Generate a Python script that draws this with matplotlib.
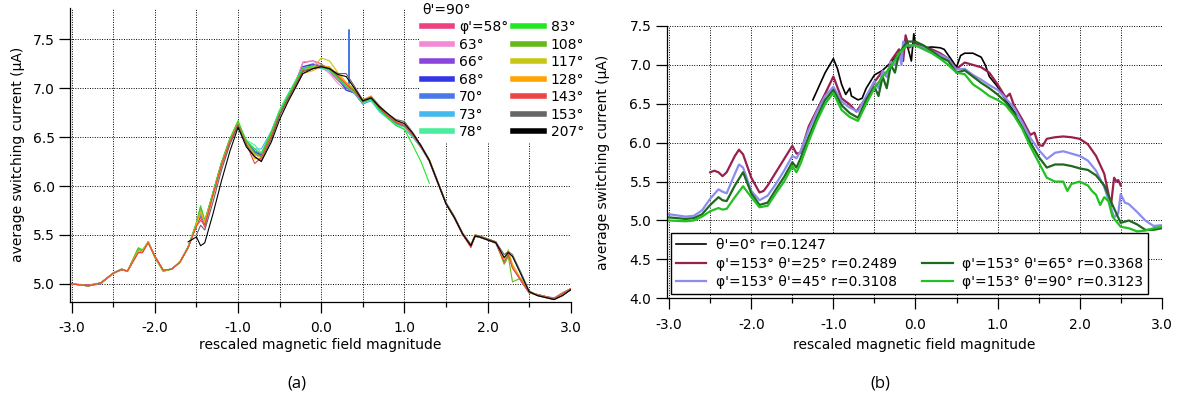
import matplotlib.pyplot as plt
import matplotlib.ticker as mticker
from matplotlib.lines import Line2D
import numpy as np

plt.rcParams['axes.unicode_minus'] = False
plt.rcParams['font.family'] = 'DejaVu Sans'

nan = np.nan

# ---- panel (a): theta'=90, different phi' ----
x_a = [-3.0, -2.8, -2.65, -2.5, -2.4, -2.33, -2.2, -2.15,
       -2.08, -2.0, -1.9, -1.8, -1.7, -1.6, -1.5, -1.45,
       -1.4, -1.3, -1.2, -1.1, -1.0, -0.95, -0.9, -0.8,
       -0.72, -0.6, -0.5, -0.4, -0.3, -0.22, -0.1, 0.0,
       0.1, 0.2, 0.3, 0.4, 0.5, 0.6, 0.7, 0.8,
       0.9, 1.0, 1.1, 1.2, 1.3, 1.4, 1.5, 1.6,
       1.7, 1.8, 1.85, 1.9, 2.0, 2.1, 2.2, 2.25,
       2.3, 2.4, 2.5, 2.6, 2.7, 2.8, 2.9, 3.0]

i_58 = [5.00, 4.99, 5.01, 5.11, 5.14, 5.13, 5.32, 5.32,
        5.42, 5.29, 5.14, 5.15, 5.22, 5.38, 5.60, 5.68,
        5.58, 5.91, 6.21, 6.45, 6.63, 6.52, 6.43, 6.32,
        6.30, 6.53, 6.75, 6.91, 7.08, 7.26, 7.28, 7.25,
        7.17, 7.08, 7.00, 6.95, 6.85, 6.89, 6.79, 6.71,
        6.64, 6.61, 6.51, 6.40, 6.25, 6.03, 5.82, 5.67,
        5.50, 5.38, 5.48, 5.48, 5.45, 5.42, 5.23, 5.30,
        5.17, 5.03, 4.91, 4.89, 4.87, 4.85, 4.91, 4.95]
i_63 = [5.00, 4.98, 5.01, 5.10, 5.15, 5.13, 5.33, 5.34,
        5.43, 5.28, 5.14, 5.15, 5.23, 5.38, 5.61, 5.72,
        5.60, 5.92, 6.22, 6.47, 6.64, 6.54, 6.44, 6.34,
        6.31, 6.53, 6.75, 6.91, 7.07, 7.27, 7.28, 7.22,
        7.15, 7.05, 6.98, 6.96, 6.86, 6.90, 6.80, 6.72,
        6.66, 6.62, 6.53, 6.41, 6.26, 6.05, 5.83, 5.68,
        5.51, 5.40, 5.49, 5.48, 5.45, 5.41, 5.24, 5.31,
        5.18, 5.04, 4.92, 4.89, 4.87, 4.86, 4.91, 4.95]
i_66 = [5.00, 4.98, 5.00, 5.11, 5.15, 5.13, 5.33, 5.33,
        5.43, 5.28, 5.14, 5.15, 5.22, 5.37, 5.61, 5.71,
        5.62, 5.93, 6.23, 6.47, 6.65, 6.54, 6.45, 6.34,
        6.31, 6.54, 6.76, 6.92, 7.08, 7.22, 7.25, 7.22,
        7.18, 7.10, 7.02, 6.96, 6.85, 6.89, 6.80, 6.72,
        6.65, 6.62, 6.52, 6.40, 6.26, 6.04, 5.82, 5.68,
        5.51, 5.39, 5.49, 5.48, 5.45, 5.42, 5.24, 5.31,
        5.18, 5.04, 4.91, 4.89, 4.87, 4.85, 4.90, 4.94]
i_68 = [5.00, 4.98, 5.01, 5.11, 5.15, 5.13, 5.34, 5.33,
        5.43, 5.28, 5.14, 5.15, 5.22, 5.37, 5.60, 5.71,
        5.62, 5.93, 6.23, 6.47, 6.65, 6.54, 6.45, 6.35,
        6.32, 6.55, 6.77, 6.93, 7.08, 7.22, 7.24, 7.23,
        7.19, 7.11, 6.98, 6.95, 6.84, 6.88, 6.79, 6.71,
        6.64, 6.61, 6.51, 6.40, 6.26, 6.04, 5.82, 5.68,
        5.51, 5.39, 5.49, 5.48, 5.45, 5.42, 5.24, 5.31,
        5.18, 5.04, 4.91, 4.89, 4.87, 4.85, 4.90, 4.95]
# 70 deg has a narrow spike near 0.33
x_70 = x_a[:35] + [0.33, 0.335, 0.34] + x_a[35:]
i_70 = [5.00, 4.98, 5.01, 5.11, 5.15, 5.13, 5.33, 5.33,
        5.43, 5.28, 5.14, 5.15, 5.22, 5.37, 5.61, 5.71,
        5.62, 5.93, 6.23, 6.47, 6.65, 6.55, 6.46, 6.36,
        6.33, 6.55, 6.77, 6.93, 7.09, 7.21, 7.23, 7.22,
        7.18, 7.10, 7.00, 7.02, 7.60, 6.98, 6.95, 6.84, 6.88, 6.78, 6.71,
        6.64, 6.61, 6.51, 6.40, 6.26, 6.04, 5.82, 5.68,
        5.51, 5.39, 5.49, 5.48, 5.45, 5.42, 5.24, 5.31,
        5.18, 5.04, 4.91, 4.89, 4.87, 4.85, 4.90, 4.95]
i_73 = [5.00, 4.98, 5.01, 5.11, 5.15, 5.13, 5.33, 5.33,
        5.43, 5.28, 5.14, 5.15, 5.22, 5.37, 5.61, 5.72,
        5.62, 5.93, 6.23, 6.47, 6.65, 6.55, 6.46, 6.38,
        6.38, 6.56, 6.77, 6.93, 7.08, 7.20, 7.22, 7.20,
        7.18, 7.11, 7.02, 6.95, 6.84, 6.87, 6.76, 6.69,
        6.62, 6.58, 6.50, 6.39, 6.26, 6.04, 5.82, 5.68,
        5.51, 5.39, 5.49, 5.48, 5.45, 5.42, 5.24, 5.31,
        5.18, 5.04, 4.91, 4.89, 4.87, 4.85, 4.90, 4.95]
i_78 = [5.00, 4.98, 5.01, 5.11, 5.15, 5.13, 5.35, 5.34,
        5.43, 5.28, 5.13, 5.15, 5.22, 5.37, 5.62, 5.75,
        5.64, 5.94, 6.24, 6.48, 6.66, 6.56, 6.47, 6.42,
        6.34, 6.56, 6.78, 6.94, 7.09, 7.21, 7.22, 7.21,
        7.18, 7.10, 7.02, 6.96, 6.85, 6.88, 6.77, 6.70,
        6.63, 6.60, 6.51, 6.40, 6.26, 6.04, 5.82, 5.68,
        5.51, 5.39, 5.49, 5.48, 5.45, 5.42, 5.24, 5.31,
        5.18, 5.04, 4.91, 4.89, 4.87, 4.85, 4.90, 4.95]
i_83 = [5.00, 4.98, 5.01, 5.11, 5.15, 5.13, 5.37, 5.35,
        5.42, 5.27, 5.13, 5.15, 5.22, 5.38, 5.63, 5.80,
        5.65, 5.94, 6.24, 6.48, 6.67, 6.56, 6.46, 6.38,
        6.33, 6.55, 6.76, 6.92, 7.08, 7.21, 7.22, 7.22,
        7.19, 7.11, 7.02, 6.96, 6.86, 6.89, 6.78, 6.70,
        6.62, 6.58, 6.42, 6.25, 6.03]
i_108 = [5.00, 4.98, 5.01, 5.11, 5.15, 5.13, 5.36, 5.34,
         5.43, 5.27, 5.13, 5.15, 5.22, 5.38, 5.62, 5.78,
         5.64, 5.93, 6.23, 6.47, 6.65, 6.54, 6.45, 6.34,
         6.30, 6.53, 6.74, 6.90, 7.06, 7.19, 7.21, 7.24,
         7.21, 7.13, 7.05, 6.98, 6.87, 6.91, 6.81, 6.73,
         6.66, 6.63, 6.53, 6.41, 6.27, 6.05, 5.83, 5.69,
         5.52, 5.40, 5.50, 5.49, 5.46, 5.43, 5.20, 5.28,
         5.02, 5.06, 4.92, 4.89, 4.87, 4.85, 4.90, 4.95]
i_117 = [5.00, 4.98, 5.01, 5.11, 5.15, 5.13, 5.34, 5.33,
         5.43, 5.28, 5.14, 5.15, 5.22, 5.37, 5.61, 5.74,
         5.63, 5.92, 6.22, 6.46, 6.64, 6.53, 6.44, 6.32,
         6.29, 6.51, 6.73, 6.89, 7.05, 7.18, 7.21, 7.31,
         7.28, 7.16, 7.06, 6.99, 6.88, 6.92, 6.82, 6.74,
         6.66, 6.63, 6.53, 6.41, 6.27, 6.05, 5.83, 5.69,
         5.52, 5.40, 5.50, 5.49, 5.46, 5.43, 5.25, 5.35,
         5.17, 5.05, 4.91, 4.88, 4.86, 4.84, 4.88, 4.94]
i_128 = [5.00, 4.98, 5.01, 5.11, 5.15, 5.13, 5.33, 5.33,
         5.43, 5.28, 5.14, 5.15, 5.22, 5.37, 5.60, 5.74,
         5.63, 5.91, 6.21, 6.45, 6.62, 6.52, 6.43, 6.28,
         6.28, 6.50, 6.72, 6.88, 7.03, 7.15, 7.18, 7.22,
         7.22, 7.14, 7.06, 6.99, 6.88, 6.92, 6.82, 6.73,
         6.66, 6.63, 6.53, 6.41, 6.27, 6.05, 5.83, 5.69,
         5.52, 5.38, 5.50, 5.49, 5.46, 5.43, 5.26, 5.33,
         5.20, 5.05, 4.92, 4.89, 4.86, 4.84, 4.89, 4.95]
i_143 = [5.00, 4.98, 5.01, 5.11, 5.15, 5.13, 5.32, 5.32,
         5.42, 5.28, 5.14, 5.15, 5.22, 5.37, 5.59, 5.65,
         5.60, 5.91, 6.21, 6.45, 6.63, 6.52, 6.43, 6.23,
         6.29, 6.51, 6.73, 6.89, 7.05, 7.18, 7.20, 7.23,
         7.20, 7.12, 7.04, 6.97, 6.86, 6.91, 6.80, 6.72,
         6.65, 6.62, 6.52, 6.40, 6.26, 6.04, 5.82, 5.68,
         5.51, 5.37, 5.49, 5.48, 5.45, 5.42, 5.22, 5.30,
         5.16, 5.04, 4.91, 4.89, 4.87, 4.85, 4.90, 4.95]
# 153 starts at -1.5, 207 starts at -1.6
i_153 = [5.50, 5.60,
         5.55, 5.84, 6.16, 6.42, 6.62, 6.52, 6.42, 6.30,
         6.26, 6.48, 6.72, 6.89, 7.04, 7.17, 7.20, 7.22,
         7.20, 7.15, 7.15, 7.02, 6.88, 6.91, 6.82, 6.74,
         6.68, 6.66, 6.55, 6.42, 6.27, 6.05, 5.83, 5.69,
         5.52, 5.40, 5.50, 5.49, 5.46, 5.43, 5.30, 5.33,
         5.30, 5.12, 4.93, 4.88, 4.86, 4.84, 4.88, 4.94]
i_207 = [5.43, 5.48, 5.39,
         5.42, 5.72, 6.05, 6.35, 6.60, 6.50, 6.40, 6.30,
         6.25, 6.45, 6.68, 6.86, 7.02, 7.15, 7.20, 7.22,
         7.20, 7.14, 7.12, 7.00, 6.87, 6.90, 6.81, 6.74,
         6.67, 6.64, 6.54, 6.41, 6.26, 6.04, 5.82, 5.68,
         5.51, 5.39, 5.49, 5.48, 5.45, 5.42, 5.27, 5.32,
         5.28, 5.10, 4.92, 4.88, 4.86, 4.84, 4.88, 4.94]

labels_a = ["φ'=58°", "63°", "66°", "68°", "70°", "73°", "78°",
            "83°", "108°", "117°", "128°", "143°", "153°", "207°"]
colors_a = ['#ee3f80', '#f38ad8', '#8a45dd', '#3535e8', '#4a78e8', '#45b8ee', '#48ee9c',
            '#22e622', '#66b81a', '#c8c418', '#ffa500', '#ee4444', '#666666', '#000000']

# ---- panel (b) ----
x_r0 = [-1.25, -1.1, -1.0, -0.95, -0.9, -0.85, -0.8, -0.78, -0.7, -0.65,
        -0.6, -0.5, -0.4, -0.3, -0.2, -0.1, -0.05, -0.02, 0.0, 0.1,
        0.2, 0.3, 0.35, 0.45, 0.5, 0.55, 0.6, 0.7, 0.8, 0.85,
        0.9, 1.0, 1.1, 1.2, 1.25]
i_r0 = [6.55, 6.90, 7.08, 6.95, 6.75, 6.62, 6.70, 6.60, 6.55, 6.57,
        6.70, 6.87, 6.93, 7.03, 7.15, 7.25, 7.05, 7.40, 7.25, 7.22,
        7.23, 7.22, 7.20, 7.05, 6.97, 7.12, 7.15, 7.15, 7.10, 7.00,
        6.85, 6.72, 6.55, 6.40, 6.35]

x_r25 = [-2.5, -2.45, -2.4, -2.35, -2.3, -2.2, -2.15, -2.1, -2.0, -1.9,
         -1.85, -1.8, -1.7, -1.6, -1.5, -1.45, -1.4, -1.3, -1.2, -1.1,
         -1.0, -0.9, -0.85, -0.8, -0.72, -0.6, -0.5, -0.4, -0.35, -0.3,
         -0.2, -0.15, -0.12, -0.08, 0.0, 0.1, 0.2, 0.3, 0.4, 0.5,
         0.6, 0.7, 0.8, 0.9, 1.0, 1.1, 1.15, 1.2, 1.3, 1.4,
         1.45, 1.5, 1.55, 1.6, 1.7, 1.8, 1.9, 2.0, 2.1, 2.2,
         2.3, 2.35, 2.38, 2.42, 2.45, 2.47, 2.5]
i_r25 = [5.62, 5.64, 5.62, 5.57, 5.62, 5.83, 5.91, 5.85, 5.55, 5.36,
         5.38, 5.45, 5.62, 5.79, 5.96, 5.86, 5.87, 6.21, 6.42, 6.63,
         6.85, 6.57, 6.53, 6.49, 6.40, 6.58, 6.78, 6.92, 6.85, 7.05,
         7.20, 7.05, 7.38, 7.22, 7.28, 7.22, 7.20, 7.15, 7.08, 6.95,
         7.03, 7.00, 6.97, 6.90, 6.75, 6.58, 6.63, 6.48, 6.30, 6.10,
         6.13, 5.97, 5.96, 6.05, 6.07, 6.08, 6.07, 6.05, 5.98, 5.83,
         5.60, 5.35, 5.18, 5.55, 5.50, 5.52, 5.45]

x_r45 = [-3.0, -2.8, -2.7, -2.6, -2.5, -2.4, -2.35, -2.3, -2.2, -2.15,
         -2.1, -2.0, -1.9, -1.8, -1.7, -1.6, -1.5, -1.45, -1.4, -1.3,
         -1.2, -1.1, -1.0, -0.9, -0.8, -0.7, -0.6, -0.5, -0.45, -0.4,
         -0.35, -0.3, -0.25, -0.2, -0.17, -0.15, -0.1, 0.0, 0.1, 0.2,
         0.3, 0.4, 0.45, 0.5, 0.6, 0.7, 0.8, 0.9, 1.0, 1.1,
         1.2, 1.3, 1.4, 1.5, 1.6, 1.7, 1.8, 1.9, 2.0, 2.1,
         2.2, 2.3, 2.38, 2.42, 2.47, 2.5, 2.55, 2.6, 2.7, 2.8,
         2.9, 3.0]
i_r45 = [5.08, 5.05, 5.06, 5.13, 5.28, 5.40, 5.37, 5.35, 5.60, 5.72,
         5.68, 5.38, 5.26, 5.32, 5.47, 5.64, 5.83, 5.80, 5.89, 6.17,
         6.40, 6.60, 6.72, 6.53, 6.45, 6.40, 6.60, 6.79, 6.70, 6.92,
         6.85, 7.04, 7.00, 7.15, 7.00, 7.30, 7.25, 7.25, 7.22, 7.18,
         7.13, 7.08, 7.00, 6.94, 6.95, 6.87, 6.81, 6.74, 6.68, 6.57,
         6.45, 6.26, 6.06, 5.91, 5.79, 5.87, 5.89, 5.86, 5.83, 5.77,
         5.64, 5.43, 5.17, 5.04, 5.09, 5.34, 5.23, 5.21, 5.11, 5.00,
         4.93, 4.94]

x_r65 = [-3.0, -2.8, -2.7, -2.6, -2.5, -2.4, -2.35, -2.3, -2.2, -2.1,
         -2.0, -1.9, -1.8, -1.7, -1.6, -1.5, -1.45, -1.4, -1.3, -1.2,
         -1.1, -1.0, -0.9, -0.8, -0.7, -0.6, -0.5, -0.45, -0.4, -0.35,
         -0.3, -0.25, -0.2, -0.1, 0.0, 0.1, 0.2, 0.3, 0.4, 0.5,
         0.6, 0.7, 0.8, 0.9, 1.0, 1.1, 1.2, 1.3, 1.4, 1.5,
         1.6, 1.7, 1.8, 1.9, 2.0, 2.1, 2.2, 2.3, 2.4, 2.5,
         2.6, 2.7, 2.8, 2.9, 3.0]
i_r65 = [5.04, 5.02, 5.03, 5.08, 5.20, 5.30, 5.26, 5.25, 5.45, 5.62,
         5.35, 5.20, 5.23, 5.40, 5.56, 5.75, 5.68, 5.80, 6.08, 6.33,
         6.55, 6.68, 6.48, 6.38, 6.32, 6.55, 6.72, 6.60, 6.85, 6.70,
         7.00, 6.90, 7.15, 7.30, 7.30, 7.25, 7.18, 7.10, 7.05, 6.90,
         6.93, 6.85, 6.77, 6.70, 6.62, 6.52, 6.38, 6.20, 6.00, 5.82,
         5.68, 5.72, 5.72, 5.70, 5.67, 5.65, 5.58, 5.45, 5.20, 4.97,
         5.00, 4.95, 4.88, 4.88, 4.90]

x_r90 = [-3.0, -2.8, -2.7, -2.6, -2.5, -2.4, -2.35, -2.3, -2.2, -2.1,
         -2.0, -1.9, -1.8, -1.7, -1.6, -1.5, -1.45, -1.4, -1.3, -1.2,
         -1.1, -1.0, -0.9, -0.8, -0.7, -0.6, -0.5, -0.4, -0.3, -0.2,
         -0.1, 0.0, 0.1, 0.2, 0.3, 0.4, 0.5, 0.6, 0.7, 0.8,
         0.9, 1.0, 1.1, 1.2, 1.3, 1.4, 1.5, 1.6, 1.7, 1.8,
         1.85, 1.9, 2.0, 2.1, 2.15, 2.2, 2.25, 2.3, 2.35, 2.4,
         2.5, 2.6, 2.7, 2.8, 2.9, 3.0]
i_r90 = [5.00, 4.99, 5.00, 5.05, 5.12, 5.16, 5.14, 5.15, 5.30, 5.44,
         5.30, 5.17, 5.19, 5.35, 5.50, 5.70, 5.62, 5.73, 6.02, 6.28,
         6.50, 6.64, 6.42, 6.33, 6.28, 6.50, 6.70, 6.85, 6.98, 7.15,
         7.25, 7.25, 7.20, 7.15, 7.08, 7.00, 6.90, 6.88, 6.75, 6.68,
         6.60, 6.55, 6.48, 6.35, 6.18, 5.95, 5.75, 5.55, 5.50, 5.50,
         5.38, 5.47, 5.50, 5.45, 5.38, 5.33, 5.20, 5.30, 5.25, 5.05,
         4.92, 4.90, 4.86, 4.87, 4.90, 4.92]

labels_b = ["θ'=0° r=0.1247", "φ'=153° θ'=25° r=0.2489", "φ'=153° θ'=45° r=0.3108",
            "φ'=153° θ'=65° r=0.3368", "φ'=153° θ'=90° r=0.3123"]
colors_b = ['#000000', '#991f4c', '#8c8cf0', '#1d6a1d', '#22c022']


def style(ax):
    for s in ['top', 'right']:
        ax.spines[s].set_visible(False)
    for s in ['left', 'bottom']:
        ax.spines[s].set_linewidth(0.9)
    ax.xaxis.set_major_locator(mticker.MultipleLocator(1.0))
    ax.xaxis.set_minor_locator(mticker.MultipleLocator(0.5))
    ax.yaxis.set_major_locator(mticker.MultipleLocator(0.5))
    ax.xaxis.set_major_formatter(mticker.FormatStrFormatter('%.1f'))
    ax.yaxis.set_major_formatter(mticker.FormatStrFormatter('%.1f'))
    ax.tick_params(which='major', direction='out', length=8, width=0.9, labelsize=10)
    ax.tick_params(axis='x', which='major', pad=6)
    ax.tick_params(axis='y', which='major', pad=3)
    ax.tick_params(which='minor', direction='out', length=3.5, width=0.9)
    ax.grid(which='both', color='black', linestyle=(0, (1, 1.5)), linewidth=0.7)
    ax.set_axisbelow(True)
    ax.set_xlabel('rescaled magnetic field magnitude', fontsize=10)
    ax.set_ylabel('average switching current (µA)', fontsize=10)


fig = plt.figure(figsize=(11.87, 4.01), dpi=100)
ax1 = fig.add_axes([0.0590, 0.2481, 0.4218, 0.7319])
ax2 = fig.add_axes([0.5617, 0.2561, 0.4170, 0.6791])

# panel (a)
series_a = [(x_a, i_58), (x_a, i_63), (x_a, i_66), (x_a, i_68), (x_70, i_70),
            (x_a, i_73), (x_a, i_78), (x_a[:45], i_83), (x_a, i_108), (x_a, i_117),
            (x_a, i_128), (x_a, i_143), (x_a[14:], i_153), (x_a[13:], i_207)]
handles_a = []
for (xs, ys), lab, col in zip(series_a, labels_a, colors_a):
    ln, = ax1.plot(xs, ys, color=col, lw=0.8, label=lab)
    handles_a.append(ln)

style(ax1)
ax1.set_xlim(-3.02, 3.0)
ax1.set_ylim(4.82, 7.82)
ax1.xaxis.set_label_coords(0.5, -0.125)
ax1.yaxis.set_label_coords(-0.09, 0.5)

leg1 = ax1.legend(handles_a, labels_a, ncol=2, title="θ'=90°", alignment='left',
                  loc='upper left', bbox_to_anchor=(419 / 1187, 1.0),
                  bbox_transform=fig.transFigure, fontsize=10, title_fontsize=10,
                  frameon=True, framealpha=1, edgecolor='none', fancybox=False,
                  borderpad=0.2, borderaxespad=0, handlelength=2.2,
                  handletextpad=0.5, columnspacing=0.35, labelspacing=0.25)
for h in leg1.legend_handles:
    h.set_linewidth(4)

# panel (b)
series_b = [(x_r0, i_r0), (x_r25, i_r25), (x_r45, i_r45), (x_r65, i_r65), (x_r90, i_r90)]
widths_b = [1.2, 1.6, 1.6, 1.6, 1.6]
handles_b = []
for (xs, ys), lab, col, w in zip(series_b, labels_b, colors_b, widths_b):
    ln, = ax2.plot(xs, ys, color=col, lw=w, label=lab)
    handles_b.append(ln)

style(ax2)
ax2.set_xlim(-3.03, 3.0)
ax2.set_ylim(4.0, 7.5)
ax2.xaxis.set_label_coords(0.5, -0.147)
ax2.yaxis.set_label_coords(-0.115, 0.5)

blank = Line2D([], [], color='none')
leg_h = [handles_b[0], handles_b[1], handles_b[2], blank, handles_b[3], handles_b[4]]
leg_l = [labels_b[0], labels_b[1], labels_b[2], '', labels_b[3], labels_b[4]]
leg2 = ax2.legend(leg_h, leg_l, ncol=2, loc='lower left',
                  bbox_to_anchor=(671 / 1187, 1 - 294 / 401),
                  bbox_transform=fig.transFigure, fontsize=10,
                  frameon=True, framealpha=1, edgecolor='black', fancybox=False,
                  borderpad=0.35, borderaxespad=0, handlelength=2.2,
                  handletextpad=0.7, columnspacing=1.8, labelspacing=0.32)
leg2.get_frame().set_linewidth(1.0)

fig.text(297 / 1187, 1 - 383 / 401, '(a)', ha='center', va='center',
         fontsize=12, family='Open Sans')
fig.text(880 / 1187, 1 - 383 / 401, '(b)', ha='center', va='center',
         fontsize=12, family='Open Sans')

fig.savefig('out.png', dpi=100)
